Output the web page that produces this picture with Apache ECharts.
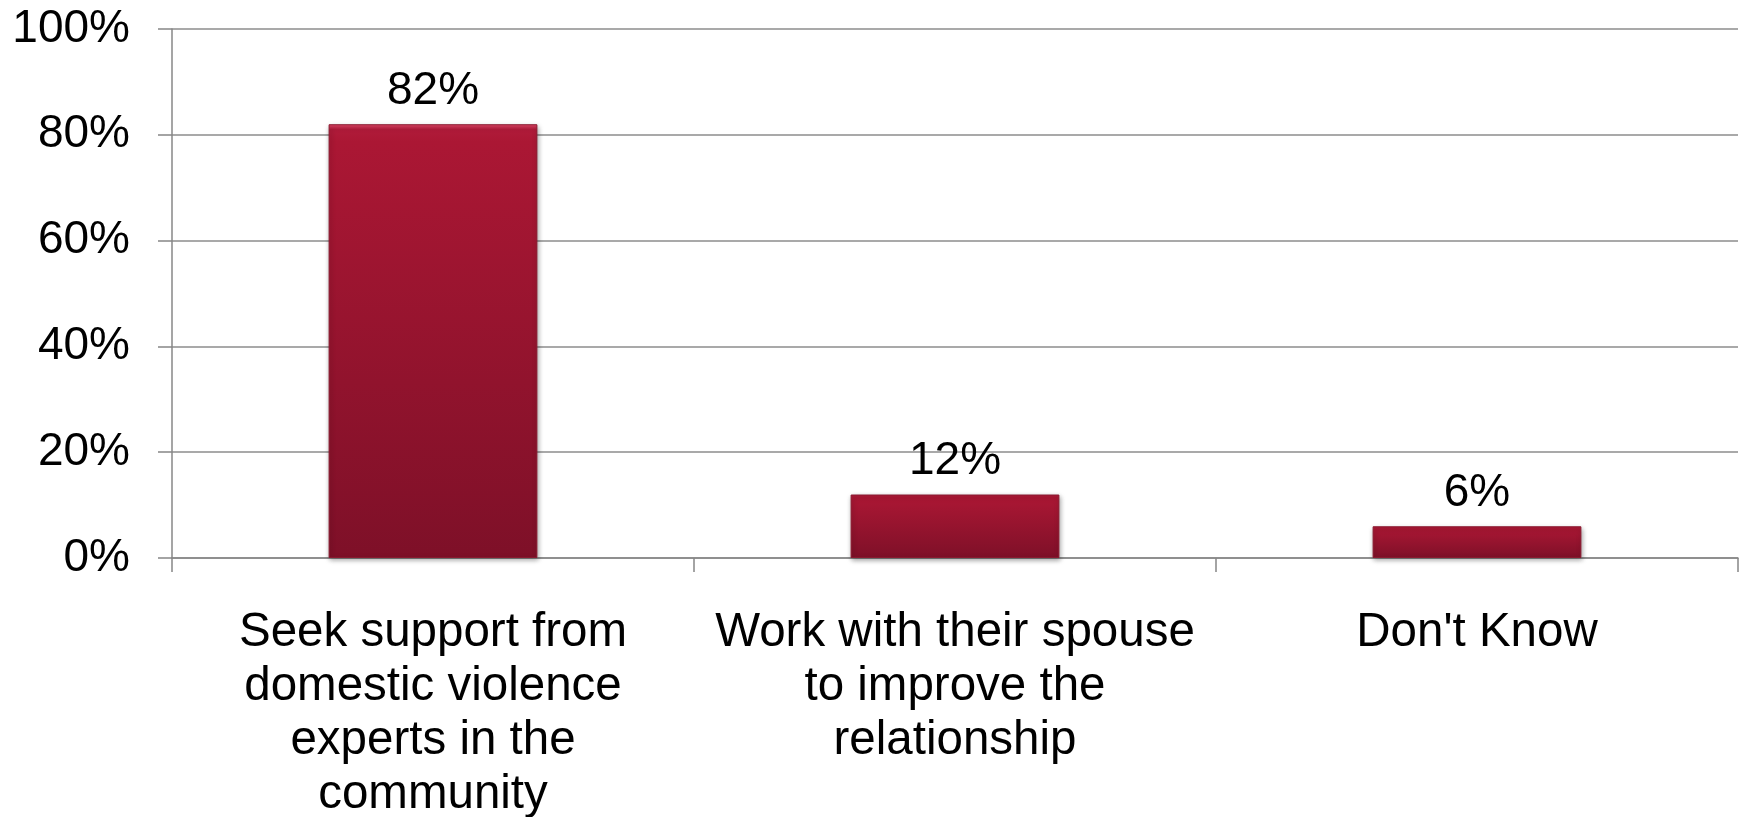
<!DOCTYPE html>
<html>
<head>
<meta charset="utf-8">
<script src="https://cdn.jsdelivr.net/npm/echarts@6/dist/echarts.min.js"></script>
<style>html,body{margin:0;padding:0;background:#fff;}#c{width:1742px;height:817px;}</style>
</head>
<body>
<div id="c"></div>
<script>
var categories = [
  "Seek support from\ndomestic violence\nexperts in the\ncommunity",
  "Work with their spouse\nto improve the\nrelationship",
  "Don't Know"
];
var values = [82, 12, 6];
var yTicks = [0, 20, 40, 60, 80, 100];

var chart = echarts.init(document.getElementById('c'), null, {renderer: 'canvas'});
var font = 'Arial, "Liberation Sans", sans-serif';
chart.setOption({
  animation: false,
  grid: {left: 172, right: 4, top: 29, bottom: 259, containLabel: false, outerBoundsMode: 'none'},
  xAxis: {
    type: 'category',
    data: categories,
    axisLine: {show: true, lineStyle: {color: '#878787', width: 1.5}},
    axisTick: {show: true, length: 14, alignWithLabel: false, lineStyle: {color: '#878787', width: 1.5}},
    axisLabel: {color: '#000', fontSize: 47.5, fontFamily: font, lineHeight: 54, margin: 48, interval: 0}
  },
  yAxis: {
    type: 'value',
    min: yTicks[0], max: yTicks[yTicks.length - 1], interval: 20,
    axisLine: {show: true, lineStyle: {color: '#878787', width: 1.5}},
    axisTick: {show: true, length: 14, lineStyle: {color: '#878787', width: 1.5}},
    axisLabel: {color: '#000', fontSize: 46, fontFamily: font, margin: 42, formatter: '{value}%'},
    splitLine: {show: true, lineStyle: {color: '#8c8c8c', width: 1.5}}
  },
  series: [{
    type: 'bar',
    data: values,
    barWidth: '40%',
    itemStyle: {
      color: new echarts.graphic.LinearGradient(0, 0, 0, 1, [
        {offset: 0, color: '#e4486a'},
        {offset: 0.012, color: '#b01b3a'},
        {offset: 0.04, color: '#ab1734'},
        {offset: 1, color: '#7e1028'}
      ]),
      borderColor: '#8a1a30',
      borderWidth: 1,
      shadowColor: 'rgba(0,0,0,0.35)',
      shadowBlur: 5,
      shadowOffsetX: 1,
      shadowOffsetY: 2
    },
    label: {
      show: true, position: 'top', distance: 10,
      color: '#000', fontSize: 46, fontFamily: font,
      formatter: '{c}%'
    }
  }]
});
</script>
</body>
</html>
